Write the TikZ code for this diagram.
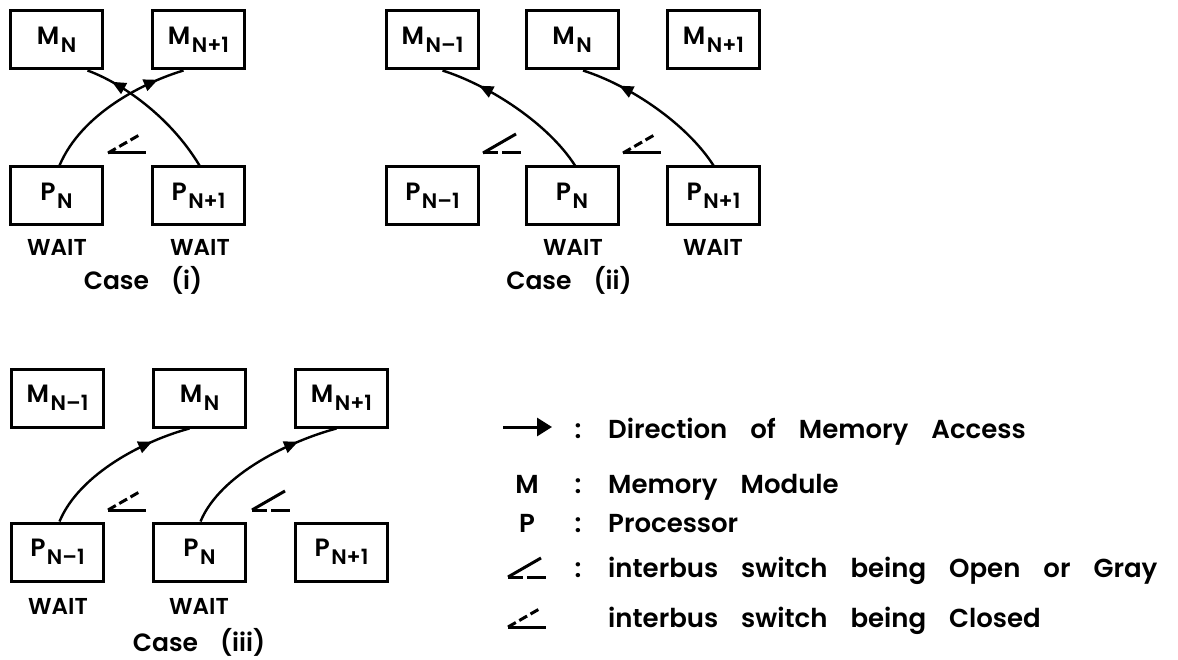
\documentclass[tikz,border=0pt]{standalone}
\usepackage{fontspec}
\setmainfont{Poppins}[UprightFont=* SemiBold]
\usetikzlibrary{arrows.meta,decorations.markings}

% label inside a memory / processor box: letter with a lowered index
\newcommand\boxlbl[2]{{\fontsize{25}{25}\selectfont #1}\hspace{1.5pt}\raisebox{-8pt}{\fontsize{21}{21}\selectfont #2}}
\newcommand\legendfont{\fontsize{26}{26}\selectfont\spaceskip=23pt plus 2pt\relax}

\tikzset{
  unit/.style={draw, line width=3pt, minimum width=92pt, minimum height=58pt, inner sep=0pt},
  access/.style={line width=2.4pt, postaction={decorate},
    decoration={markings, mark=at position #1 with {\arrow{Triangle[length=14pt,width=12pt]}}}},
  access/.default=0.76,
  waitlbl/.style={anchor=base, inner sep=0pt, font=\fontsize{23}{23}\selectfont},
  caselbl/.style={anchor=base, inner sep=0pt, font=\fontsize{25}{25}\selectfont},
  legtxt/.style={anchor=base west, inner sep=0pt, font=\legendfont},
  legsym/.style={anchor=base, inner sep=0pt, font=\legendfont},
  swopen/.pic={
    \draw[line width=3pt] (0,0) -- (33,-19);
    \draw[line width=3pt] (0,0) -- (15,0) (19,0) -- (38,0);
  },
  swclosed/.pic={
    \draw[line width=3pt, dash pattern=on 9pt off 4pt] (0,0) -- (33,-19);
    \draw[line width=3pt] (0,0) -- (38,0);
  }
}

\begin{document}
\begin{tikzpicture}[x=1pt,y=-1pt]
\fill[white] (0,0) rectangle (1178,660);
\useasboundingbox (0,0) rectangle (1178,660);

% ---------------- case (i) ----------------
\node[unit] (iM1) at (56.5,40)  {\boxlbl{M}{N}};
\node[unit] (iM2) at (198.5,40) {\boxlbl{M}{N+1}};
\node[unit] (iP1) at (56.5,196) {\boxlbl{P}{N}};
\node[unit] (iP2) at (198.5,196){\boxlbl{P}{N+1}};
\draw[access=0.83] ([xshift=3pt]iP1.north) .. controls +(22,-52) and +(-40,12) .. ([xshift=-15pt]iM2.south);
\draw[access=0.82] ([xshift=1pt]iP2.north) .. controls +(-30,-50) and +(33,12) .. ([xshift=31pt]iM1.south);
\pic at (108,153) {swclosed};
\node[waitlbl] (iW1) at (57,256) {WAIT};
\node[waitlbl] (iW2) at (200,256) {WAIT};
\node[caselbl] (iC) at (143,290) {Case\hspace{22pt}(i)};

% ---------------- case (ii) ----------------
\node[unit] (jM1) at (432.5,40) {\boxlbl{M}{N\textendash1}};
\node[unit] (jM2) at (572,40)   {\boxlbl{M}{N}};
\node[unit] (jM3) at (713.5,40) {\boxlbl{M}{N+1}};
\node[unit] (jP1) at (432.5,196){\boxlbl{P}{N\textendash1}};
\node[unit] (jP2) at (572,196)  {\boxlbl{P}{N}};
\node[unit] (jP3) at (713.5,196){\boxlbl{P}{N+1}};
\draw[access] ([xshift=3pt]jP2.north) .. controls +(-27,-42) and +(47,15) .. ([xshift=10pt]jM1.south);
\draw[access] ([xshift=0pt]jP3.north) .. controls +(-27,-42) and +(47,15) .. ([xshift=11pt]jM2.south);
\pic at (483,153) {swopen};
\pic at (623,153) {swclosed};
\node[waitlbl] (jW2) at (573,256) {WAIT};
\node[waitlbl] (jW3) at (713,256) {WAIT};
\node[caselbl] (jC) at (569,290) {Case\hspace{22pt}(ii)};

% ---------------- case (iii) ----------------
\node[unit] (kM1) at (57.5,398)  {\boxlbl{M}{N\textendash1}};
\node[unit] (kM2) at (199.5,398) {\boxlbl{M}{N}};
\node[unit] (kM3) at (341.5,398) {\boxlbl{M}{N+1}};
\node[unit] (kP1) at (57.5,552)  {\boxlbl{P}{N\textendash1}};
\node[unit] (kP2) at (199.5,552) {\boxlbl{P}{N}};
\node[unit] (kP3) at (341.5,552) {\boxlbl{P}{N+1}};
\draw[access] ([xshift=2pt]kP1.north) .. controls +(20,-48) and +(-45,12) .. ([xshift=-10pt]kM2.south);
\draw[access] ([xshift=1pt]kP2.north) .. controls +(20,-48) and +(-45,12) .. ([xshift=-5pt]kM3.south);
\pic at (108,510) {swclosed};
\pic at (252,510) {swopen};
\node[waitlbl] (kW1) at (58,614) {WAIT};
\node[waitlbl] (kW2) at (199,614) {WAIT};
\node[caselbl] (kC) at (199,651) {Case\hspace{22pt}(iii)};

% ---------------- legend ----------------
\coordinate (la) at (503,427);
\coordinate (lb) at (552,427);
\draw[line width=3pt, -{Triangle[length=15pt,width=18pt]}] (la) -- (lb);
\node[legsym] (c1) at (578,438) {:};
\node[legtxt] (t1) at (608,438) {Direction of Memory Access};

\node[legsym] (sM) at (527,493) {M};
\node[legsym] (c2) at (578,493) {:};
\node[legtxt] (t2) at (608,493) {Memory Module};

\node[legsym] (sP) at (527,532) {P};
\node[legsym] (c3) at (578,532) {:};
\node[legtxt] (t3) at (608,532) {Processor};

\pic at (508,577) {swopen};
\node[legsym] (c4) at (578,577) {:};
\node[legtxt] (t4) at (608,577) {interbus switch being Open or Gray};

\pic at (508,627) {swclosed};
\node[legtxt] (t5) at (608,627) {interbus switch being Closed};
\end{tikzpicture}
\end{document}
